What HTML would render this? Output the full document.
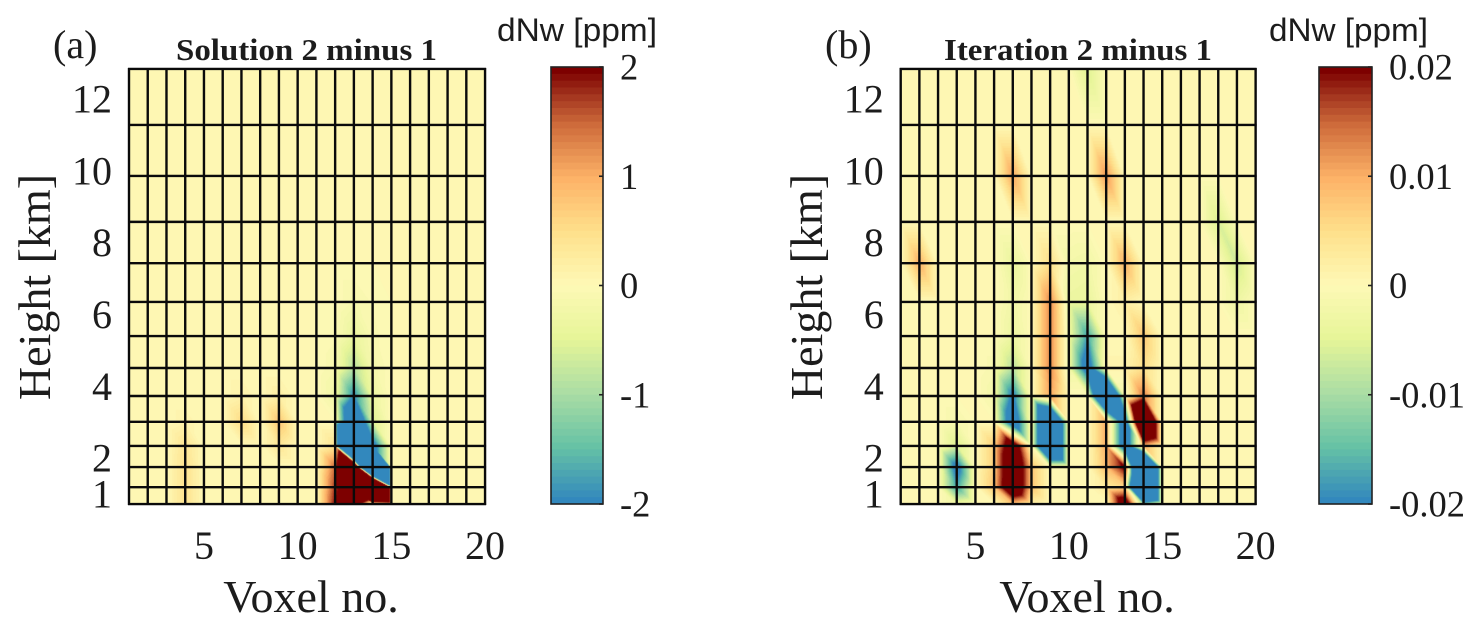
<!DOCTYPE html>
<html lang="en">
<head>
<meta charset="utf-8">
<title>dNw difference maps</title>
<style>
html,body{margin:0;padding:0;background:#fff;}
#stage{position:relative;width:1483px;height:632px;overflow:hidden;background:#fff;}
canvas{position:absolute;display:block;}
svg{position:absolute;left:0;top:0;}
.serif{font-family:"Liberation Serif",serif;fill:#1c1c1c;}
.sans{font-family:"Liberation Sans",sans-serif;fill:#1c1c1c;}
</style>
</head>
<body>
<div id="stage">
<canvas id="field-a"></canvas>
<canvas id="field-b"></canvas>
<svg id="overlay" width="1483" height="632" viewBox="0 0 1483 632" xmlns="http://www.w3.org/2000/svg">
  <g id="panel-a">
    <text class="serif" x="53" y="58" font-size="40">(a)</text>
    <text class="serif" x="176" y="60" font-size="30.5" font-weight="bold" textLength="261" lengthAdjust="spacingAndGlyphs">Solution 2 minus 1</text>
    <text class="sans" x="497" y="41" font-size="32" textLength="160" lengthAdjust="spacingAndGlyphs">dNw [ppm]</text>
    <text class="serif" x="311" y="612" font-size="46" text-anchor="middle">Voxel no.</text>
    <text class="serif" transform="translate(50,287) rotate(-90)" font-size="46" text-anchor="middle">Height [km]</text>
  </g>
  <g id="panel-b">
    <text class="serif" x="825" y="58" font-size="40">(b)</text>
    <text class="serif" x="944" y="60" font-size="30.5" font-weight="bold" textLength="268" lengthAdjust="spacingAndGlyphs">Iteration 2 minus 1</text>
    <text class="sans" x="1269" y="41" font-size="32" textLength="159" lengthAdjust="spacingAndGlyphs">dNw [ppm]</text>
    <text class="serif" x="1087" y="612" font-size="46" text-anchor="middle">Voxel no.</text>
    <text class="serif" transform="translate(822,287) rotate(-90)" font-size="46" text-anchor="middle">Height [km]</text>
  </g>
</svg>
</div>
<script>
/* ---------- data ---------- */
const voxelNumbers = [1,2,3,4,5,6,7,8,9,10,11,12,13,14,15,16,17,18,19,20];
const heightEdges = [12.84,11.28,9.86,8.58,7.43,6.35,5.40,4.51,3.73,3.01,2.34,1.75,1.19,0.72];
const xTickValues = [5,10,15,20];
const heightTickValues = [12,10,8,6,4,2,1];
const solutionColorTicks = [2,1,0,-1,-2];
const iterationColorTicks = [0.02,0.01,0,-0.01,-0.02];
const solutionColorLabels = ['2','1','0','-1','-2'];
const iterationColorLabels = ['0.02','0.01','0','-0.01','-0.02'];
const solutionLimit = 2;
const iterationLimit = 0.02;
/* node values, ppm: rows follow heightEdges, columns follow voxelNumbers */
const solutionDiff = [
 [0,0,0,0,0,0,0,0,0,0,0,0,0,0,0,0,0,0,0,0],
 [0,0,0,0,0,0,0,0,0,0,0,0,0,0,0,0,0,0,0,0],
 [0,0,0,0,0,0,0,0,0,0,0,0,0,0,0,0,0,0,0,0],
 [0,0,0,0,0,0,0,0,0,0,0,0,0,0,0,0,0,0,0,0],
 [0,0,0,0,0,0,0,0,0,0,0,0,0,0,0,0,0,0,0,0],
 [0,0,0,0,0,0,0,0,0,0,0,0,-0.15,-0.05,0,0,0,0,0,0],
 [0,0,0,0,0,0,0,0,0,0,0,-0.05,-0.4,-0.1,0,0,0,0,0,0],
 [0,0,0,0,0,0,0,0,0,0,0,-0.12,-0.9,-0.18,0,0,0,0,0,0],
 [0,0,0,0,0,0,0.15,0,0.2,0,0,-0.25,-2,-0.35,0,0,0,0,0,0],
 [0,0,0,0.12,0,0,0.55,0,0.8,0,0,0,-4,-0.6,0,0,0,0,0,0],
 [0,0,0,0.4,0,0,0,0,0.35,0,0,0.4,-20,-2.5,0,0,0,0,0,0],
 [0,0,0,0.45,0,0,0,0,0,0,0,1.5,8,-20,0,0,0,0,0,0],
 [0,0,0,0.45,0,0,0,0,0,0,0,1.8,10,20,0,0,0,0,0,0],
 [0,0,0,0.45,0,0,0,0,0,0,0,2,3,-0.5,0,0,0,0,0,0]
];
/* node values, 0.001 ppm */
const iterationDiff = [
 [0,0,0,0,0,0,0,0,0,0,-6,0,0,0,0,0,0,0,0,0],
 [0,0,0,0,0,0,0,0,0,0,0,0,0,0,0,0,0,0,0,0],
 [0,0,0,0,0,0,11,0,0,0,0,12,0,0,0,0,0,0,0,0],
 [0,0,0,0,0,0,0,0,0,0,0,0,0,0,0,0,0,-6,0,0],
 [0,10,0,0,0,0,-4,0,5,-2,-2.5,0,10,0,0,0,0,0,-7,0],
 [0,0,0,0,0,0,-2.5,0,13,-3.5,-4,0,2,0,0,0,0,0,-3,0],
 [0,0,0,0,0,0,-3.5,0,13,-2.5,-18,0,0,8,0,0,0,0,0,0],
 [0,0,0,0,0,-1,-9,0,13,-2.5,-26,1,1,5,0,0,0,0,0,0],
 [0,0,0,0,0,-2,-22,0,11,0,0,-60,-2,14,0,0,0,0,0,0],
 [0,0,0,-1.5,0,0,-30,0,-60,0,0,10,-30,60,0,0,0,0,0,0],
 [0,0,0,-6,0,7,30,0,-60,0,0,10,-30,10,0,0,0,0,0,0],
 [0,0,0,-24,0,7,35,8,0,0,0,9,22,-90,0,0,0,0,0,0],
 [0,0,0,-18,0,8,35,8,0,0,0,3,6,-90,0,0,0,0,0,0],
 [0,0,0,-3,0,0,8,2,0,0,0,0,30,-12,0,0,0,0,0,0]
];
const iterationUnit = 0.001;

/* ---------- colour map ---------- */
const colormapStops = [
 [-1,50,136,189],[-0.75,102,194,165],[-0.5,171,221,164],[-0.25,230,245,152],
 [0,254,249,182],[0.25,254,224,139],[0.5,253,178,103],[0.75,205,106,58],[0.875,165,55,32],[1,125,0,0]
];
const colorLevels = 64;
function colorFor(t){
  t = Math.max(-1, Math.min(1, t));
  t = (Math.round((t + 1) / 2 * (colorLevels - 1)) / (colorLevels - 1)) * 2 - 1;
  for (let i = 1; i < colormapStops.length; i++) {
    const a = colormapStops[i - 1], b = colormapStops[i];
    if (t <= b[0]) {
      const f = (t - a[0]) / (b[0] - a[0]);
      return [a[1] + (b[1] - a[1]) * f, a[2] + (b[2] - a[2]) * f, a[3] + (b[3] - a[3]) * f];
    }
  }
  return colormapStops[colormapStops.length - 1].slice(1);
}

/* ---------- axis functions ---------- */
function yScale(h){ return 494 + (1 - h) * 35.9; }
function makeXScale(left, step){ return function(v){ return left + (v - 1) * step; }; }
const xScaleA = makeXScale(129, 18.74);
const xScaleB = makeXScale(900.7, 18.68);
function makeColorbarScale(limit){ return function(v){ return 285.5 - (v / limit) * 218.5; }; }

const svgNS = 'http://www.w3.org/2000/svg';
function svgEl(tag, parent){
  const el = document.createElementNS(svgNS, tag);
  parent.appendChild(el);
  return el;
}

/* ---------- heat field: triangles split along the top-left to bottom-right diagonal ---------- */
function drawField(id, matrix, unit, limit, xScale){
  const canvas = document.getElementById(id);
  const left = Math.round(xScale(voxelNumbers[0]));
  const right = Math.round(xScale(voxelNumbers[voxelNumbers.length - 1]));
  const top = Math.round(yScale(heightEdges[0]));
  const bottom = Math.round(yScale(heightEdges[heightEdges.length - 1]));
  canvas.width = right - left;
  canvas.height = bottom - top;
  canvas.style.left = left + 'px';
  canvas.style.top = top + 'px';
  const ctx = canvas.getContext('2d');
  const img = ctx.createImageData(canvas.width, canvas.height);
  let p = 0;
  for (let py = 0; py < canvas.height; py++) {
    const Y = top + py + 0.5;
    let r = 0;
    while (r < heightEdges.length - 2 && yScale(heightEdges[r + 1]) < Y) r++;
    const y0 = yScale(heightEdges[r]), y1 = yScale(heightEdges[r + 1]);
    const v = Math.max(0, Math.min(1, (Y - y0) / (y1 - y0)));
    for (let px = 0; px < canvas.width; px++) {
      const X = left + px + 0.5;
      let c = 0;
      while (c < voxelNumbers.length - 2 && xScale(voxelNumbers[c + 1]) < X) c++;
      const x0 = xScale(voxelNumbers[c]), x1 = xScale(voxelNumbers[c + 1]);
      const u = Math.max(0, Math.min(1, (X - x0) / (x1 - x0)));
      const tl = matrix[r][c], tr = matrix[r][c + 1], bl = matrix[r + 1][c], br = matrix[r + 1][c + 1];
      const val = u >= v ? tl * (1 - u) + tr * (u - v) + br * v
                         : tl * (1 - v) + bl * (v - u) + br * u;
      const col = colorFor(val * unit / limit);
      img.data[p++] = col[0];
      img.data[p++] = col[1];
      img.data[p++] = col[2];
      img.data[p++] = 255;
    }
  }
  ctx.putImageData(img, 0, 0);
}

/* ---------- grid and tick labels ---------- */
function drawAxes(groupId, xScale){
  const g = document.getElementById(groupId);
  const xL = xScale(voxelNumbers[0]);
  const xR = xScale(voxelNumbers[voxelNumbers.length - 1]);
  const yT = yScale(heightEdges[0]);
  const yB = yScale(heightEdges[heightEdges.length - 1]);
  voxelNumbers.forEach(function(n){
    const line = svgEl('line', g);
    
    
    line.setAttribute('x1', xScale(n));
    line.setAttribute('x2', xScale(n));
    line.setAttribute('y1', yT - 1);
    line.setAttribute('y2', yB + 1);
    line.setAttribute('stroke', '#0a0a0a');
    line.setAttribute('stroke-width', '2.4');
  });
  heightEdges.forEach(function(h){
    const line = svgEl('line', g);
    
    
    line.setAttribute('x1', xL - 1);
    line.setAttribute('x2', xR + 1);
    line.setAttribute('y1', yScale(h));
    line.setAttribute('y2', yScale(h));
    line.setAttribute('stroke', '#0a0a0a');
    line.setAttribute('stroke-width', '2.4');
  });
  xTickValues.forEach(function(t){
    const label = svgEl('text', g);
    
    
    label.setAttribute('class', 'serif');
    label.setAttribute('x', xScale(t));
    label.setAttribute('y', 559);
    label.setAttribute('font-size', '40');
    label.setAttribute('text-anchor', 'middle');
    label.textContent = String(t);
  });
  heightTickValues.forEach(function(t){
    const label = svgEl('text', g);
    
    
    label.setAttribute('class', 'serif');
    label.setAttribute('x', xL - 17);
    label.setAttribute('y', yScale(t) + 13.5);
    label.setAttribute('font-size', '40');
    label.setAttribute('text-anchor', 'end');
    label.textContent = String(t);
  });
}

/* ---------- colour bars ---------- */
function drawColorbar(groupId, barLeft, barWidth, limit, ticks, labels){
  const g = document.getElementById(groupId);
  const cScale = makeColorbarScale(limit);
  for (let i = 0; i < colorLevels; i++) {
    const hi = limit - (2 * limit) * i / colorLevels;
    const lo = limit - (2 * limit) * (i + 1) / colorLevels;
    const c = colorFor((hi + lo) / 2 / limit);
    const band = svgEl('rect', g);
    
    
    band.setAttribute('x', barLeft);
    band.setAttribute('y', cScale(hi));
    band.setAttribute('width', barWidth);
    band.setAttribute('height', cScale(lo) - cScale(hi) + 0.5);
    band.setAttribute('fill', 'rgb(' + Math.round(c[0]) + ',' + Math.round(c[1]) + ',' + Math.round(c[2]) + ')');
  }
  const frame = svgEl('rect', g);
  
  
  frame.setAttribute('x', barLeft);
  frame.setAttribute('y', cScale(limit));
  frame.setAttribute('width', barWidth);
  frame.setAttribute('height', cScale(-limit) - cScale(limit));
  frame.setAttribute('fill', 'none');
  frame.setAttribute('stroke', '#222');
  frame.setAttribute('stroke-width', '1.6');
  ticks.forEach(function(t, i){
    const tick = svgEl('line', g);
    
    
    tick.setAttribute('x1', barLeft + barWidth - 4);
    tick.setAttribute('x2', barLeft + barWidth);
    tick.setAttribute('y1', cScale(t));
    tick.setAttribute('y2', cScale(t));
    tick.setAttribute('stroke', '#222');
    tick.setAttribute('stroke-width', '1.6');
    const label = svgEl('text', g);
    
    
    label.setAttribute('class', 'serif');
    label.setAttribute('x', barLeft + barWidth + 17);
    label.setAttribute('y', cScale(t) + 12.5);
    label.setAttribute('font-size', '36.5');
    label.textContent = labels[i];
  });
}

drawField('field-a', solutionDiff, 1, solutionLimit, xScaleA);
drawField('field-b', iterationDiff, iterationUnit, iterationLimit, xScaleB);
drawAxes('panel-a', xScaleA);
drawAxes('panel-b', xScaleB);
drawColorbar('panel-a', 551, 52, solutionLimit, solutionColorTicks, solutionColorLabels);
drawColorbar('panel-b', 1319, 53, iterationLimit, iterationColorTicks, iterationColorLabels);
</script>
</body>
</html>
